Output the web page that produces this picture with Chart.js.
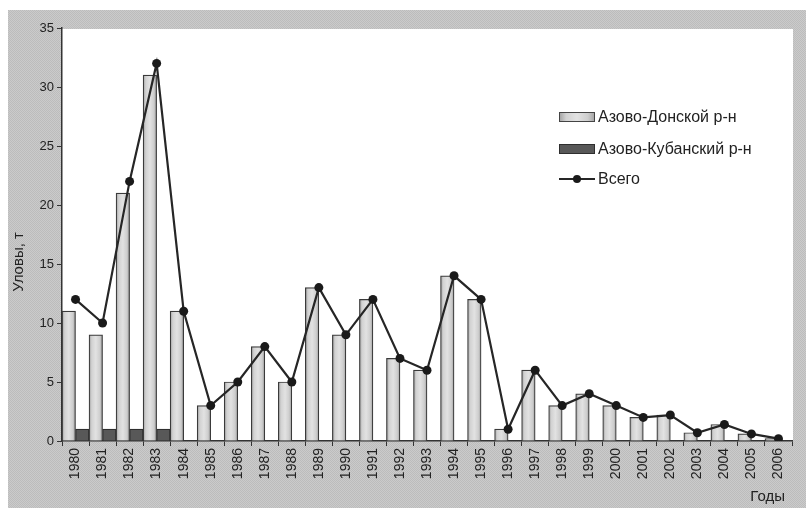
<!DOCTYPE html>
<html><head><meta charset="utf-8">
<script src="https://cdn.jsdelivr.net/npm/chart.js@4.4.0/dist/chart.umd.min.js"></script>
<style>html,body{margin:0;padding:0;background:#fff;}canvas{display:block;}</style>
</head><body>
<canvas id="c" width="806" height="508"></canvas>
<script>
const years = ['1980','1981','1982','1983','1984','1985','1986','1987','1988','1989','1990','1991','1992','1993','1994','1995','1996','1997','1998','1999','2000','2001','2002','2003','2004','2005','2006'];
const azovDon = [11,9,21,31,11,3,5,8,5,13,9,12,7,6,14,12,1,6,3,4,3,2,2.2,0.7,1.4,0.6,0.2];
const azovKuban = [1,1,1,1,0,0,0,0,0,0,0,0,0,0,0,0,0,0,0,0,0,0,0,0,0,0,0];
const total = [12,10,22,32,11,3,5,8,5,13,9,12,7,6,14,12,1,6,3,4,3,2,2.2,0.7,1.4,0.6,0.2];
const seriesNames = ['Азово-Донской р-н','Азово-Кубанский р-н','Всего'];
const yTitle = 'Уловы, т';
const xTitle = 'Годы';

const FONT = 'Liberation Sans, Arial, sans-serif';

function makePattern(ctx){
  const p = document.createElement('canvas'); p.width = 2; p.height = 2;
  const g = p.getContext('2d');
  g.fillStyle = '#cbcbcb'; g.fillRect(0,0,2,2);
  g.fillStyle = '#bcbcbc'; g.fillRect(0,0,1,1); g.fillRect(1,1,1,1);
  return ctx.createPattern(p,'repeat');
}

function barGradient(ctx, x0, x1){
  if(!isFinite(x0) || !isFinite(x1) || x1 <= x0) return '#d6d6d6';
  const g = ctx.createLinearGradient(x0,0,x1,0);
  g.addColorStop(0,'#a0a0a0');
  g.addColorStop(0.2,'#d2d2d2');
  g.addColorStop(0.5,'#e2e2e2');
  g.addColorStop(0.8,'#cecece');
  g.addColorStop(1,'#a0a0a0');
  return g;
}

const bgPlugin = {
  id:'bg',
  beforeDraw(chart){
    const ctx = chart.ctx, a = chart.chartArea;
    ctx.save();
    ctx.fillStyle = '#ffffff'; ctx.fillRect(0,0,chart.width,chart.height);
    ctx.fillStyle = makePattern(ctx); ctx.fillRect(8,10,chart.width-8,chart.height-10);
    ctx.fillStyle = '#ffffff'; ctx.fillRect(a.left, a.top+1, a.right - a.left + 1, a.bottom - a.top - 1);
    ctx.restore();
  },
  afterDraw(chart){
    const ctx = chart.ctx;
    ctx.save();
    ctx.fillStyle = '#222';
    ctx.font = '15px ' + FONT;
    ctx.textAlign = 'center'; ctx.textBaseline = 'middle';
    ctx.translate(19, 262);
    ctx.rotate(-Math.PI/2);
    ctx.fillText(yTitle, 0, 0);
    ctx.restore();
    ctx.save();
    ctx.fillStyle = '#222';
    ctx.font = '15px ' + FONT;
    ctx.textAlign = 'right'; ctx.textBaseline = 'middle';
    ctx.fillText(xTitle, 785, 497);
    ctx.restore();
    const ds = chart.data.datasets;
    const x0 = 559, sw = 36, rows = [117,149,179];
    ctx.save();
    ctx.font = '16px ' + FONT;
    ctx.textBaseline = 'middle'; ctx.textAlign = 'left';
    ctx.fillStyle = barGradient(ctx, x0, x0+sw);
    ctx.fillRect(x0, rows[0]-5, sw, 10);
    ctx.strokeStyle = '#444'; ctx.lineWidth = 1;
    ctx.strokeRect(x0+0.5, rows[0]-4.5, sw-1, 9);
    ctx.fillStyle = ds[2].backgroundColor;
    ctx.fillRect(x0, rows[1]-5, sw, 10);
    ctx.strokeStyle = ds[2].borderColor;
    ctx.strokeRect(x0+0.5, rows[1]-4.5, sw-1, 9);
    ctx.strokeStyle = ds[0].borderColor; ctx.lineWidth = 2;
    ctx.beginPath(); ctx.moveTo(x0, rows[2]); ctx.lineTo(x0+sw, rows[2]); ctx.stroke();
    ctx.fillStyle = ds[0].pointBackgroundColor;
    ctx.beginPath(); ctx.arc(x0+sw/2, rows[2], 4, 0, Math.PI*2); ctx.fill();
    ctx.fillStyle = '#222';
    const labels = [ds[1].label, ds[2].label, ds[0].label];
    labels.forEach((t,i)=> ctx.fillText(t, x0+sw+3, rows[i]+1));
    ctx.restore();
  }
};

Chart.defaults.font.family = FONT;
Chart.defaults.color = '#222';

new Chart(document.getElementById('c'), {
  type:'bar',
  data:{
    labels: years,
    datasets:[
      {
        type:'line', label: seriesNames[2], data: total, order:0,
        borderColor:'#262626', borderWidth:2.2, tension:0,
        pointRadius:4.5, pointBackgroundColor:'#1a1a1a', pointBorderColor:'#1a1a1a', pointBorderWidth:0
      },
      {
        label: seriesNames[0], data: azovDon, order:1,
        backgroundColor:(c)=>{
          const sx = c.chart.scales && c.chart.scales.x;
          if(!sx || c.dataIndex === undefined) return '#d6d6d6';
          const xc = sx.getPixelForValue(c.dataIndex);
          const w = (sx.right - sx.left) / years.length / 2;
          return barGradient(c.chart.ctx, xc - w, xc);
        },
        borderColor:'#3a3a3a', borderWidth:1.2, borderSkipped:'bottom',
        categoryPercentage:1.0, barPercentage:1.0
      },
      {
        label: seriesNames[1], data: azovKuban, order:2,
        backgroundColor:'#585858', borderColor:'#2e2e2e', borderWidth:1.2, borderSkipped:'bottom',
        categoryPercentage:1.0, barPercentage:1.0
      }
    ]
  },
  plugins:[bgPlugin],
  options:{
    responsive:false, animation:false, devicePixelRatio:1,
    layout:{padding:{top:28, right:14, bottom:2, left:0}},
    plugins:{legend:{display:false}, tooltip:{enabled:false}, title:{display:false}},
    scales:{
      x:{
        offset:true,
        grid:{display:true, offset:true, drawOnChartArea:false, drawTicks:true, tickLength:5, color:'#333', lineWidth:1},
        border:{display:true, color:'#333', width:1.5},
        ticks:{autoSkip:false, minRotation:90, maxRotation:90, font:{size:14}, color:'#222', padding:2},
        afterFit(s){ s.height = 65; }
      },
      y:{
        min:0, max:35,
        ticks:{stepSize:5, font:{size:13}, color:'#222', padding:3},
        grid:{display:true, drawOnChartArea:false, drawTicks:true, tickLength:5, color:'#333', lineWidth:1},
        border:{display:true, color:'#333', width:1.5},
        afterFit(s){ s.width = 62; }
      }
    }
  }
});
</script>
</body></html>
